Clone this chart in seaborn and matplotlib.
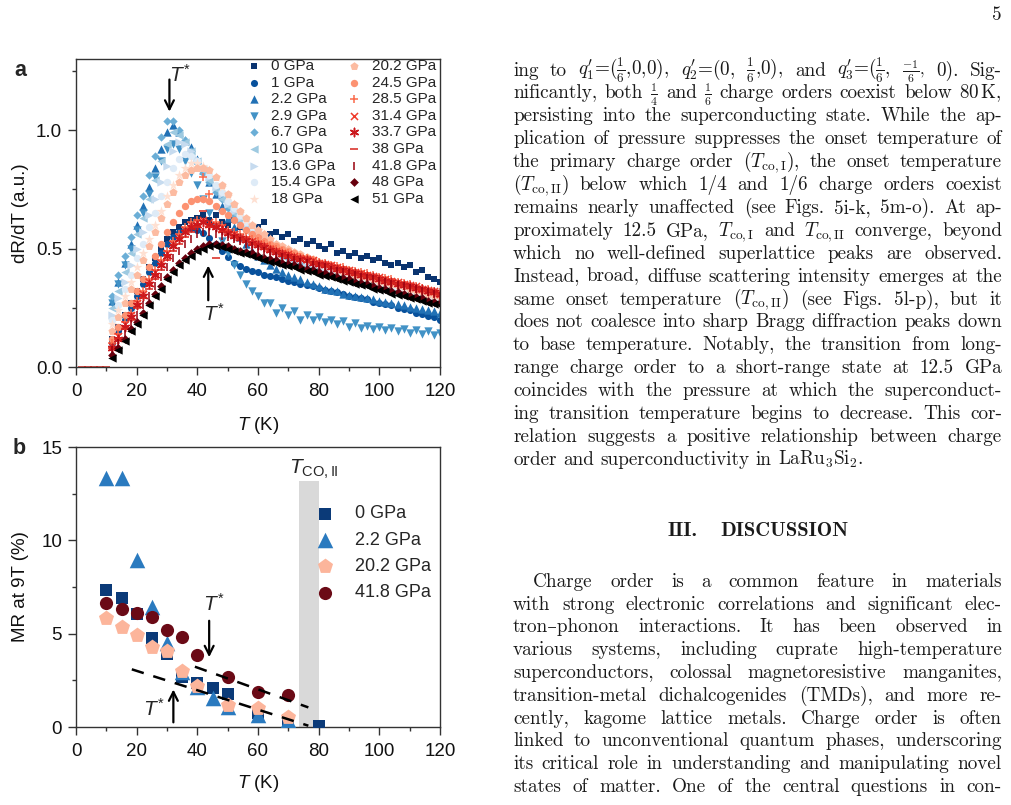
import numpy as np
import pandas as pd
import matplotlib
matplotlib.use("Agg")
import matplotlib.pyplot as plt
import seaborn as sns
from matplotlib.ticker import MultipleLocator

sns.set_theme(style="ticks")
plt.rcParams["font.family"] = ["Liberation Sans", "DejaVu Sans"]
plt.rcParams["mathtext.fontset"] = "custom"
plt.rcParams["mathtext.rm"] = "Liberation Sans"
plt.rcParams["mathtext.it"] = "Liberation Sans:italic"
plt.rcParams["mathtext.bf"] = "Liberation Sans:bold"
plt.rcParams["axes.linewidth"] = 1.0
plt.rcParams["axes.edgecolor"] = "#333333"

# ---------------------------------------------------------------
# panel a : dR/dT vs T for 18 pressures
# ---------------------------------------------------------------
temps_a = [12, 14, 16, 18, 20, 22, 24, 26, 28, 30, 32, 34, 36, 38, 40, 42, 44, 46, 48, 50,
           52, 54, 56, 58, 60, 62, 64, 66, 68, 70, 72, 74, 76, 78, 80, 82, 84, 86, 88, 90,
           92, 94, 96, 98, 100, 102, 104, 106, 108, 110, 112, 114, 116, 118, 120]

drdt_0 = [0.12, 0.17, 0.22, 0.27, 0.32, 0.37, 0.42, 0.46, 0.50, 0.54,
          0.57, 0.59, 0.61, 0.62, 0.63, 0.64, 0.62, 0.64, 0.61, 0.60,
          0.62, 0.59, 0.60, 0.58, 0.59, 0.61, 0.56, 0.57, 0.55, 0.56,
          0.53, 0.54, 0.52, 0.53, 0.51, 0.50, 0.52, 0.48, 0.49, 0.47,
          0.48, 0.46, 0.47, 0.45, 0.46, 0.44, 0.43, 0.44, 0.42, 0.43,
          0.40, 0.41, 0.38, 0.37, 0.36]
drdt_1 = [0.10, 0.15, 0.20, 0.25, 0.30, 0.35, 0.40, 0.44, 0.48, 0.52,
          0.55, 0.57, 0.58, 0.585, 0.58, 0.565, 0.545, 0.52, 0.49, 0.465,
          0.44, 0.425, 0.415, 0.405, 0.40, 0.39, 0.385, 0.38, 0.37, 0.365,
          0.36, 0.35, 0.345, 0.34, 0.335, 0.325, 0.32, 0.315, 0.31, 0.30,
          0.295, 0.29, 0.285, 0.275, 0.27, 0.265, 0.26, 0.25, 0.245, 0.24,
          0.23, 0.225, 0.215, 0.21, 0.20]
drdt_2_2 = [0.28, 0.36, 0.44, 0.52, 0.60, 0.68, 0.76, 0.84, 0.92, 0.99,
            1.02, 0.99, 0.96, 0.93, 0.88, 0.83, 0.78, 0.73, 0.68, 0.63,
            0.59, 0.55, 0.52, 0.49, 0.47, 0.45, 0.43, 0.415, 0.40, 0.39,
            0.38, 0.37, 0.36, 0.35, 0.34, 0.33, 0.325, 0.32, 0.31, 0.305,
            0.30, 0.295, 0.29, 0.285, 0.28, 0.275, 0.27, 0.265, 0.26, 0.255,
            0.25, 0.245, 0.24, 0.235, 0.23]
drdt_2_9 = [0.27, 0.35, 0.43, 0.50, 0.58, 0.65, 0.73, 0.80, 0.87, 0.92,
            0.94, 0.92, 0.87, 0.82, 0.77, 0.71, 0.65, 0.59, 0.53, 0.48,
            0.43, 0.39, 0.35, 0.32, 0.30, 0.27, 0.27, 0.23, 0.25, 0.22,
            0.235, 0.20, 0.22, 0.20, 0.21, 0.19, 0.20, 0.18, 0.195, 0.17,
            0.185, 0.165, 0.175, 0.16, 0.17, 0.155, 0.165, 0.15, 0.16, 0.145,
            0.155, 0.14, 0.15, 0.135, 0.145]
drdt_6_7 = [0.30, 0.39, 0.47, 0.55, 0.64, 0.72, 0.81, 0.89, 0.97, 1.04,
            1.04, 1.00, 0.96, 0.91, 0.86, 0.82, 0.78, 0.74, 0.71, 0.67,
            0.64, 0.61, 0.58, 0.56, 0.54, 0.52, 0.50, 0.49, 0.47, 0.46,
            0.45, 0.44, 0.43, 0.42, 0.41, 0.40, 0.39, 0.38, 0.375, 0.37,
            0.36, 0.355, 0.35, 0.34, 0.335, 0.33, 0.325, 0.32, 0.31, 0.305,
            0.30, 0.295, 0.29, 0.285, 0.28]
drdt_10 = [0.25, 0.32, 0.40, 0.48, 0.56, 0.63, 0.71, 0.79, 0.87, 0.94,
           0.99, 0.98, 0.95, 0.91, 0.87, 0.83, 0.79, 0.75, 0.71, 0.68,
           0.65, 0.62, 0.59, 0.57, 0.55, 0.53, 0.51, 0.50, 0.48, 0.47,
           0.46, 0.45, 0.44, 0.43, 0.42, 0.41, 0.40, 0.39, 0.385, 0.38,
           0.37, 0.365, 0.36, 0.35, 0.345, 0.34, 0.33, 0.325, 0.32, 0.31,
           0.305, 0.30, 0.29, 0.285, 0.28]
drdt_13_6 = [0.22, 0.29, 0.36, 0.43, 0.50, 0.57, 0.64, 0.71, 0.78, 0.85,
             0.91, 0.95, 0.94, 0.91, 0.88, 0.84, 0.80, 0.76, 0.73, 0.69,
             0.66, 0.63, 0.60, 0.58, 0.56, 0.54, 0.52, 0.50, 0.49, 0.48,
             0.46, 0.45, 0.44, 0.43, 0.42, 0.41, 0.40, 0.395, 0.39, 0.38,
             0.375, 0.37, 0.36, 0.355, 0.35, 0.34, 0.335, 0.33, 0.32, 0.315,
             0.31, 0.30, 0.295, 0.29, 0.285]
drdt_15_4 = [0.20, 0.26, 0.33, 0.39, 0.46, 0.52, 0.59, 0.65, 0.72, 0.78,
             0.84, 0.88, 0.90, 0.89, 0.87, 0.84, 0.81, 0.77, 0.74, 0.70,
             0.67, 0.64, 0.61, 0.59, 0.57, 0.55, 0.53, 0.51, 0.50, 0.49,
             0.47, 0.46, 0.45, 0.44, 0.43, 0.42, 0.41, 0.40, 0.395, 0.39,
             0.38, 0.375, 0.37, 0.36, 0.355, 0.35, 0.34, 0.335, 0.33, 0.32,
             0.315, 0.31, 0.30, 0.295, 0.29]
drdt_18 = [0.18, 0.24, 0.30, 0.36, 0.42, 0.48, 0.54, 0.60, 0.66, 0.72,
           0.77, 0.81, 0.84, 0.86, 0.86, 0.85, 0.83, 0.80, 0.76, 0.72,
           0.69, 0.65, 0.62, 0.60, 0.58, 0.56, 0.54, 0.52, 0.51, 0.50,
           0.48, 0.47, 0.46, 0.45, 0.44, 0.43, 0.42, 0.41, 0.40, 0.395,
           0.39, 0.38, 0.375, 0.37, 0.36, 0.355, 0.35, 0.34, 0.335, 0.33,
           0.32, 0.315, 0.31, 0.30, 0.295]
drdt_20_2 = [0.15, 0.21, 0.27, 0.33, 0.39, 0.45, 0.51, 0.57, 0.63, 0.69,
             0.74, 0.78, 0.81, 0.83, 0.84, 0.84, 0.83, 0.80, 0.77, 0.73,
             0.69, 0.66, 0.63, 0.60, 0.58, 0.56, 0.54, 0.52, 0.51, 0.50,
             0.485, 0.475, 0.465, 0.455, 0.445, 0.435, 0.425, 0.415, 0.405, 0.40,
             0.39, 0.385, 0.38, 0.37, 0.365, 0.36, 0.35, 0.345, 0.34, 0.33,
             0.325, 0.32, 0.31, 0.305, 0.30]
drdt_24_5 = [0.12, 0.17, 0.22, 0.27, 0.32, 0.37, 0.42, 0.47, 0.52, 0.57,
             0.61, 0.65, 0.68, 0.70, 0.71, 0.71, 0.70, 0.68, 0.66, 0.64,
             0.62, 0.60, 0.58, 0.56, 0.55, 0.53, 0.52, 0.51, 0.50, 0.49,
             0.48, 0.47, 0.46, 0.45, 0.44, 0.435, 0.43, 0.42, 0.415, 0.41,
             0.40, 0.395, 0.39, 0.38, 0.375, 0.37, 0.36, 0.355, 0.35, 0.34,
             0.335, 0.33, 0.32, 0.315, 0.31]
drdt_28_5 = [0.10, 0.14, 0.19, 0.23, 0.28, 0.32, 0.37, 0.41, 0.45, 0.49,
             0.53, 0.56, 0.59, 0.61, 0.62, 0.80, 0.73, 0.61, 0.60, 0.58,
             0.57, 0.56, 0.55, 0.54, 0.53, 0.52, 0.51, 0.50, 0.49, 0.48,
             0.47, 0.465, 0.46, 0.45, 0.445, 0.44, 0.43, 0.425, 0.42, 0.41,
             0.405, 0.40, 0.395, 0.39, 0.38, 0.375, 0.37, 0.36, 0.355, 0.35,
             0.34, 0.335, 0.33, 0.32, 0.315]
drdt_31_4 = [0.09, 0.13, 0.18, 0.22, 0.27, 0.31, 0.36, 0.40, 0.44, 0.48,
             0.52, 0.55, 0.58, 0.60, 0.61, 0.62, 0.61, 0.60, 0.59, 0.57,
             0.56, 0.55, 0.54, 0.53, 0.52, 0.51, 0.50, 0.49, 0.48, 0.475,
             0.47, 0.46, 0.455, 0.45, 0.44, 0.435, 0.43, 0.42, 0.415, 0.41,
             0.40, 0.395, 0.39, 0.385, 0.38, 0.37, 0.365, 0.36, 0.35, 0.345,
             0.34, 0.33, 0.325, 0.32, 0.31]
drdt_33_7 = [0.08, 0.12, 0.17, 0.21, 0.26, 0.30, 0.35, 0.39, 0.43, 0.47,
             0.51, 0.54, 0.57, 0.59, 0.60, 0.61, 0.60, 0.59, 0.58, 0.565,
             0.555, 0.545, 0.535, 0.525, 0.515, 0.505, 0.495, 0.485, 0.475, 0.47,
             0.46, 0.455, 0.45, 0.44, 0.435, 0.43, 0.42, 0.415, 0.41, 0.40,
             0.395, 0.39, 0.385, 0.38, 0.37, 0.365, 0.36, 0.35, 0.345, 0.34,
             0.335, 0.33, 0.32, 0.315, 0.31]
drdt_38 = [0.08, 0.12, 0.16, 0.20, 0.25, 0.29, 0.33, 0.37, 0.41, 0.45,
           0.49, 0.52, 0.55, 0.57, 0.59, 0.66, 0.59, 0.46, 0.57, 0.56,
           0.55, 0.54, 0.53, 0.52, 0.51, 0.50, 0.49, 0.48, 0.47, 0.465,
           0.46, 0.45, 0.445, 0.44, 0.43, 0.425, 0.42, 0.41, 0.405, 0.40,
           0.39, 0.385, 0.38, 0.375, 0.37, 0.36, 0.355, 0.35, 0.34, 0.335,
           0.33, 0.325, 0.32, 0.31, 0.305]
drdt_41_8 = [0.07, 0.10, 0.14, 0.18, 0.22, 0.26, 0.30, 0.34, 0.38, 0.42,
             0.46, 0.49, 0.52, 0.54, 0.56, 0.57, 0.57, 0.56, 0.555, 0.55,
             0.54, 0.53, 0.52, 0.51, 0.50, 0.49, 0.48, 0.47, 0.465, 0.46,
             0.45, 0.445, 0.44, 0.43, 0.425, 0.42, 0.41, 0.405, 0.40, 0.395,
             0.39, 0.38, 0.375, 0.37, 0.365, 0.36, 0.35, 0.345, 0.34, 0.335,
             0.33, 0.32, 0.315, 0.31, 0.30]
drdt_48 = [0.05, 0.08, 0.12, 0.16, 0.19, 0.23, 0.27, 0.31, 0.34, 0.38,
           0.41, 0.44, 0.46, 0.48, 0.50, 0.51, 0.52, 0.52, 0.515, 0.51,
           0.50, 0.49, 0.485, 0.48, 0.47, 0.46, 0.455, 0.45, 0.44, 0.435,
           0.43, 0.42, 0.415, 0.41, 0.40, 0.395, 0.39, 0.38, 0.375, 0.37,
           0.36, 0.355, 0.35, 0.34, 0.335, 0.33, 0.32, 0.315, 0.31, 0.30,
           0.295, 0.29, 0.28, 0.275, 0.27]
drdt_51 = [0.04, 0.07, 0.11, 0.15, 0.18, 0.22, 0.26, 0.30, 0.33, 0.37,
           0.40, 0.43, 0.45, 0.47, 0.49, 0.50, 0.51, 0.51, 0.505, 0.50,
           0.49, 0.48, 0.475, 0.47, 0.46, 0.45, 0.445, 0.44, 0.43, 0.425,
           0.42, 0.41, 0.405, 0.40, 0.39, 0.385, 0.38, 0.37, 0.365, 0.36,
           0.35, 0.345, 0.34, 0.33, 0.325, 0.32, 0.31, 0.305, 0.30, 0.29,
           0.285, 0.28, 0.27, 0.265, 0.26]

# superconducting points (dR/dT = 0) seen below 12 K for 38 GPa
temps_38_low = [2, 4, 6, 8, 10]
drdt_38_low = [0.0, 0.0, 0.0, 0.0, 0.0]

pressures_a = ["0 GPa", "1 GPa", "2.2 GPa", "2.9 GPa", "6.7 GPa", "10 GPa", "13.6 GPa",
               "15.4 GPa", "18 GPa", "20.2 GPa", "24.5 GPa", "28.5 GPa", "31.4 GPa",
               "33.7 GPa", "38 GPa", "41.8 GPa", "48 GPa", "51 GPa"]
curves_a = [drdt_0, drdt_1, drdt_2_2, drdt_2_9, drdt_6_7, drdt_10, drdt_13_6, drdt_15_4,
            drdt_18, drdt_20_2, drdt_24_5, drdt_28_5, drdt_31_4, drdt_33_7, drdt_38,
            drdt_41_8, drdt_48, drdt_51]
colors_a = ["#0a3470", "#08519c", "#2171b5", "#4292c6", "#6baed6", "#9ecae1", "#c6dbef",
            "#deebf7", "#fee0d2", "#fcbba1", "#fc9272", "#fb6a4a", "#ef3b2c", "#cb181d",
            "#d7261e", "#99000d", "#67000d", "#000000"]
markers_a = ["s", "o", "^", "v", "D", "<", ">", "o", "*", "p", "o", "+", "x", (6, 2, 0),
             "_", "|", "D", "<"]
sizes_a = [24, 26, 36, 36, 18, 36, 36, 28, 55, 38, 28, 36, 26, 36, 36, 36, 20, 36]

# ---------------------------------------------------------------
# panel b : MR at 9 T
# ---------------------------------------------------------------
mr_temps_0 = [10, 15, 20, 25, 30, 35, 40, 45, 50, 60, 70, 80]
mr_0 = [7.33, 6.89, 6.08, 4.75, 3.92, 2.66, 2.34, 2.07, 1.75, 0.75, 0.35, 0.03]
mr_temps_2_2 = [10, 15, 20, 25, 30, 35, 40, 45, 50, 60, 70]
mr_2_2 = [13.32, 13.32, 8.94, 6.41, 4.52, 2.96, 2.16, 1.54, 1.09, 0.64, 0.40]
mr_temps_20_2 = [10, 15, 20, 25, 30, 35, 40, 50, 60, 70]
mr_20_2 = [5.82, 5.37, 4.93, 4.27, 4.09, 3.02, 2.21, 1.18, 1.00, 0.52]
mr_temps_41_8 = [10, 15, 20, 25, 30, 35, 40, 50, 60, 70]
mr_41_8 = [6.62, 6.32, 6.09, 5.91, 5.20, 4.80, 3.86, 2.70, 1.89, 1.71]

pressures_b = ["0 GPa", "2.2 GPa", "20.2 GPa", "41.8 GPa"]
temps_b = [mr_temps_0, mr_temps_2_2, mr_temps_20_2, mr_temps_41_8]
curves_b = [mr_0, mr_2_2, mr_20_2, mr_41_8]
colors_b = ["#0b3a78", "#2a7abf", "#fcb59b", "#6b0a16"]
markers_b = ["s", "^", "p", "o"]
sizes_b = [75, 125, 130, 90]

# guide lines and T_CO,II band
guide_upper_T = [39.2, 76.6]
guide_upper_mr = [3.23, 1.05]
guide_lower_T = [18.4, 76.6]
guide_lower_mr = [3.09, 0.07]
tco2_band = [73.6, 80.0]
tco2_band_top = 13.18

# ---------------------------------------------------------------
W, H = 1011, 805
fig = plt.figure(figsize=(W / 100, H / 100), dpi=100)
fig.patch.set_facecolor("white")

ax_a = fig.add_axes([76 / W, 1 - 367 / H, 364 / W, 308 / H])
ax_b = fig.add_axes([76 / W, 1 - 727 / H, 364 / W, 280 / H])

line_art = {"+", "x", "_", "|"}
for lab, vals, col, mk, sz in zip(pressures_a, curves_a, colors_a, markers_a, sizes_a):
    temps = temps_a
    if lab == "38 GPa":
        temps = temps_38_low + temps_a
        vals = drdt_38_low + vals
    d = pd.DataFrame({"T": temps, "dRdT": vals})
    is_line = isinstance(mk, tuple) or mk in line_art
    sns.scatterplot(data=d, x="T", y="dRdT", ax=ax_a, marker=mk, s=sz, color=col,
                    linewidth=1.1 if is_line else 0, label=lab)

for lab, tt, vals, col, mk, sz in zip(pressures_b, temps_b, curves_b, colors_b, markers_b, sizes_b):
    d = pd.DataFrame({"T": tt, "MR": vals})
    sns.scatterplot(data=d, x="T", y="MR", ax=ax_b, marker=mk, s=sz, color=col,
                    linewidth=0, label=lab, zorder=3)

ax_b.axvspan(tco2_band[0], tco2_band[1], ymin=0, ymax=tco2_band_top / 15,
             color="#d9d9d9", lw=0, zorder=1)
ax_b.plot(guide_upper_T, guide_upper_mr, ls=(0, (5, 4)), color="black", lw=1.8, zorder=4)
ax_b.plot(guide_lower_T, guide_lower_mr, ls=(0, (5, 4)), color="black", lw=1.8, zorder=4)

# axes styling
for ax in (ax_a, ax_b):
    ax.set_xlim(0, 120)
    ax.xaxis.set_major_locator(MultipleLocator(20))
    ax.xaxis.set_minor_locator(MultipleLocator(10))
    ax.tick_params(which="major", direction="out", length=5.5, width=1.0,
                   labelsize=13.5, color="#333333", labelcolor="#111111")
    ax.tick_params(which="minor", direction="out", length=3.2, width=1.0, color="#333333")
    ax.tick_params(axis="x", pad=6)
    ax.tick_params(axis="y", pad=4.5)
    ax.set_xlabel(r"$T$ (K)", fontsize=13.5, color="#111111")

ax_a.set_ylim(0, 1.3)
ax_a.yaxis.set_major_locator(MultipleLocator(0.5))
ax_a.yaxis.set_minor_locator(MultipleLocator(0.25))
ax_a.set_ylabel("dR/dT (a.u.)", fontsize=13.5, color="#111111")
ax_a.xaxis.set_label_coords(0.5, -0.155)
ax_a.yaxis.set_label_coords(-0.128, 0.5)

ax_b.set_ylim(0, 15)
ax_b.yaxis.set_major_locator(MultipleLocator(5))
ax_b.yaxis.set_minor_locator(MultipleLocator(2.5))
ax_b.set_ylabel("MR at 9T (%)", fontsize=13.5, color="#111111")
ax_b.xaxis.set_label_coords(0.5, -0.165)
ax_b.yaxis.set_label_coords(-0.128, 0.5)

# legends
ax_a.legend(ncol=2, loc="upper left", bbox_to_anchor=(0.472, 1.0), frameon=False,
            fontsize=11, handlelength=0.8, handletextpad=0.75, columnspacing=0.8,
            labelspacing=0.17, borderpad=0, borderaxespad=0)
ax_b.legend(loc="upper left", bbox_to_anchor=(0.662, 0.792), frameon=False,
            fontsize=13, handlelength=0.9, handletextpad=1.2, labelspacing=0.52,
            borderpad=0, borderaxespad=0)

# annotations
arrow = dict(arrowstyle="->", lw=1.6, color="black", mutation_scale=16)
ax_a.annotate("", xy=(30.8, 1.066), xytext=(30.8, 1.225), arrowprops=arrow)
ax_a.text(34.3, 1.234, r"$T^{*}$", fontsize=15, ha="center", va="center")
ax_a.annotate("", xy=(43.6, 0.44), xytext=(43.6, 0.27), arrowprops=arrow)
ax_a.text(45.3, 0.226, r"$T^{*}$", fontsize=15, ha="center", va="center")

ax_b.annotate("", xy=(43.9, 3.59), xytext=(43.9, 5.84), arrowprops=arrow)
ax_b.text(45.3, 6.62, r"$T^{*}$", fontsize=15, ha="center", va="center")
ax_b.annotate("", xy=(32.1, 2.16), xytext=(32.1, 0.1), arrowprops=arrow)
ax_b.text(25.5, 0.95, r"$T^{*}$", fontsize=15, ha="center", va="center")
ax_b.text(78.3, 13.8, r"$T_{\mathrm{CO,II}}$", fontsize=15, ha="center", va="center")

fig.text(20 / W, 1 - 70 / H, "a", fontsize=15.5, fontweight="bold", ha="center", va="center")
fig.text(19 / W, 1 - 448 / H, "b", fontsize=15.5, fontweight="bold", ha="center", va="center")

# ---------------------------------------------------------------
# right-hand text column of the page
# ---------------------------------------------------------------
para1 = [
    r"ing to $q^{\prime}_{1}$=($\frac{1}{6}$,0,0), $q^{\prime}_{2}$=(0, $\frac{1}{6}$,0), and $q^{\prime}_{3}$=($\frac{1}{6}$, $\frac{-1}{6}$, 0). Sig-",
    r"nificantly, both $\frac{1}{4}$ and $\frac{1}{6}$ charge orders coexist below 80$\,$K,",
    "persisting into the superconducting state. While the ap-",
    "plication of pressure suppresses the onset temperature of",
    r"the primary charge order ($T_{\mathrm{co,I}}$), the onset temperature",
    r"($T_{\mathrm{co,II}}$) below which 1/4 and 1/6 charge orders coexist",
    "remains nearly unaffected (see Figs. 5i-k, 5m-o). At ap-",
    r"proximately 12.5 GPa, $T_{\mathrm{co,I}}$ and $T_{\mathrm{co,II}}$ converge, beyond",
    "which no well-defined superlattice peaks are observed.",
    "Instead, broad, diffuse scattering intensity emerges at the",
    r"same onset temperature ($T_{\mathrm{co,II}}$) (see Figs. 5l-p), but it",
    "does not coalesce into sharp Bragg diffraction peaks down",
    "to base temperature. Notably, the transition from long-",
    "range charge order to a short-range state at 12.5 GPa",
    "coincides with the pressure at which the superconduct-",
    "ing transition temperature begins to decrease. This cor-",
    "relation suggests a positive relationship between charge",
    r"order and superconductivity in LaRu$_3$Si$_2$.",
]
para2 = [
    "Charge order is a common feature in materials",
    "with strong electronic correlations and significant elec-",
    "tron\u2013phonon interactions. It has been observed in",
    "various systems, including cuprate high-temperature",
    "superconductors, colossal magnetoresistive manganites,",
    "transition-metal dichalcogenides (TMDs), and more re-",
    "cently, kagome lattice metals. Charge order is often",
    "linked to unconventional quantum phases, underscoring",
    "its critical role in understanding and manipulating novel",
    "states of matter. One of the central questions in con-",
]

renderer = fig.canvas.get_renderer()
body_size = 13.8
text_kw = dict(family=["cmr10", "DejaVu Serif"], math_fontfamily="cm",
               color="#1a1a1a", va="baseline", ha="left")


def set_line(line, y_center, x_left, x_right, justify=True):
    words = line.split()
    base = 1 - (y_center + 5.0) / H
    objs = []
    for w in words:
        # a word that is only a stacked fraction is set a little smaller
        lone_frac = w.startswith(r"$\frac") and w.rstrip(",").endswith("$")
        size = body_size * 0.88 if lone_frac else body_size
        objs.append(fig.text(0, base, w, fontsize=size, **text_kw))
    widths = [o.get_window_extent(renderer).width for o in objs]
    if justify and len(words) > 1:
        gap = (x_right - x_left - sum(widths)) / (len(words) - 1)
    else:
        gap = 0.333 * body_size * 100 / 72
    x = x_left
    for o, wd in zip(objs, widths):
        o.set_x(x / W)
        x += wd + gap


for k, line in enumerate(para1):
    set_line(line, 70.5 + 22.9 * k, 513, 1002, justify=(k < len(para1) - 1))
for k, line in enumerate(para2):
    set_line(line, 581.7 + 22.8 * k, 533 if k == 0 else 513, 1002)

fig.text(667 / W, 1 - 536.5 / H, "III.", fontsize=14.8, family="cmb10", color="#1a1a1a",
         va="baseline", ha="left")
fig.text(720 / W, 1 - 536.5 / H, "DISCUSSION", fontsize=14.8, family="cmb10",
         color="#1a1a1a", va="baseline", ha="left")
fig.text(997 / W, 1 - 19.5 / H, "5", fontsize=13.8, family="cmr10", color="#1a1a1a",
         va="baseline", ha="center")

fig.savefig("out.png", dpi=100, facecolor="white")
plt.close(fig)
